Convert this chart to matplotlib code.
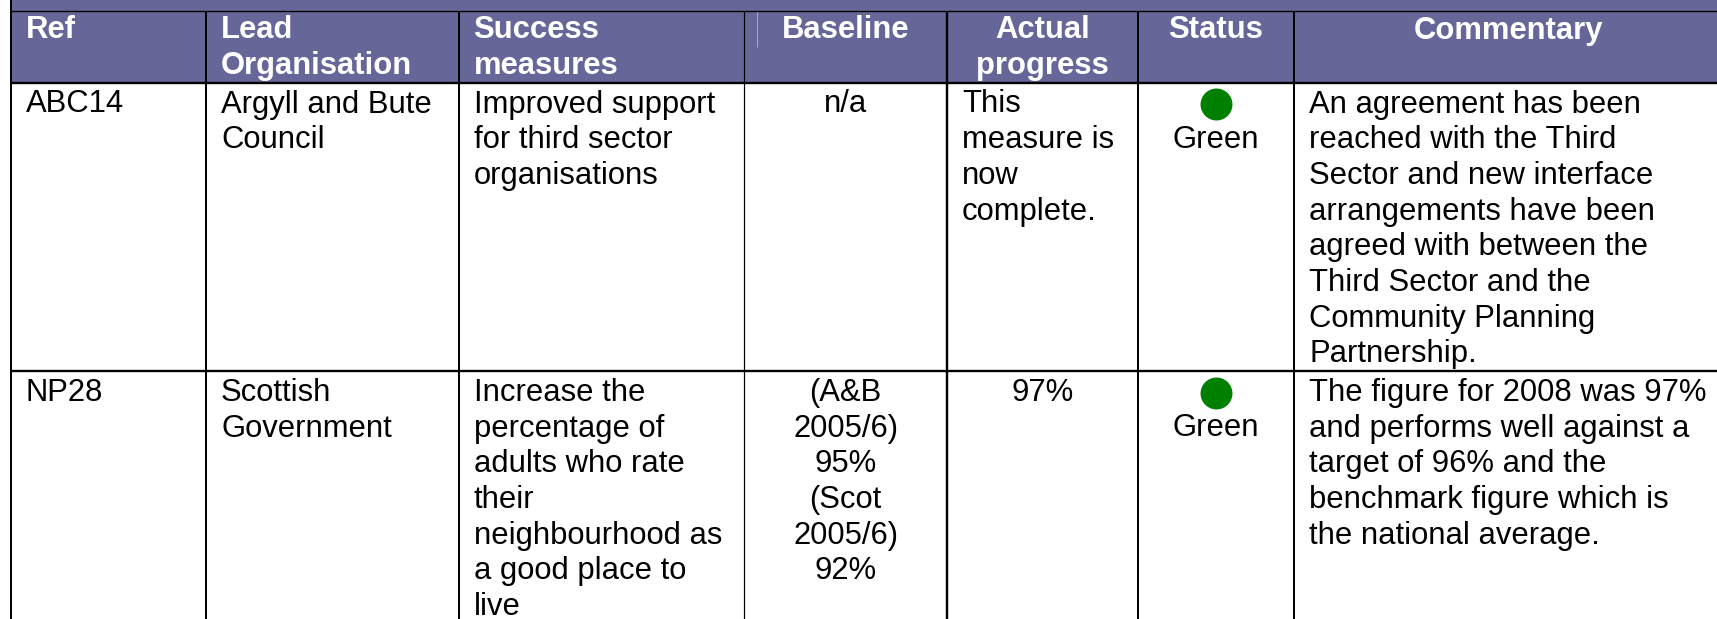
import matplotlib
matplotlib.use("Agg")
import matplotlib.pyplot as plt

headers = ["Ref", "Lead\nOrganisation", "Success\nmeasures", "Baseline", "Actual\nprogress", "Status", "Commentary"]
header_align = ["left", "left", "left", "center", "center", "center", "center"]
row1 = ["ABC14", "Argyll and Bute\nCouncil", "Improved support\nfor third sector\norganisations", "n/a",
        "This\nmeasure is\nnow\ncomplete.", "Green",
        "An agreement has been\nreached with the Third\nSector and new interface\narrangements have been\nagreed with between the\nThird Sector and the\nCommunity Planning\nPartnership."]
row2 = ["NP28", "Scottish\nGovernment", "Increase the\npercentage of\nadults who rate\ntheir\nneighbourhood as\na good place to\nlive",
        "(A&B\n2005/6)\n95%\n(Scot\n2005/6)\n92%", "97%", "Green",
        "The figure for 2008 was 97%\nand performs well against a\ntarget of 96% and the\nbenchmark figure which is\nthe national average."]
rows = [row1, row2]
row_align = [["left", "left", "left", "center", "left", "center", "left"],
             ["left", "left", "left", "center", "center", "center", "left"]]
status_colors = ["#008000", "#008000"]

col_edges = [10.5, 206, 458.5, 744, 947, 1138, 1294, 1722]
col_widths = [2, 2, 2, 1.2, 2.4, 2, 2]
top_line, header_bottom = 10.5, 82.5
row_tops = [82.5, 371]
row_bottom = 619
header_color = "#666699"
pad = 15
fs = 22.3
pitch = 35.67
first_base = 30.0

fig = plt.figure(figsize=(17.17, 6.19), dpi=100, facecolor="white")
ax = fig.add_axes([0, 0, 1, 1])
ax.set_xlim(0, 1717)
ax.set_ylim(619, 0)
ax.axis("off")
plt.rcParams["font.family"] = ["Liberation Sans", "DejaVu Sans"]

ax.fill_between([col_edges[0], 1717], 0, header_bottom, color=header_color, lw=0, zorder=1)
ax.hlines([top_line, header_bottom, row_tops[1]], col_edges[0], 1717, color="black",
          lw=[1.0, 1.7, 1.7], zorder=3)
for i, x in enumerate(col_edges[:-1]):
    ax.vlines(x, 0 if i == 0 else top_line, row_bottom, color="black", lw=col_widths[i] * 0.72, zorder=3)
ax.vlines(757, top_line, 47, color="#a9a9c8", lw=0.7, zorder=2)


def tx(i, align):
    if align == "left":
        return col_edges[i] + pad
    return (col_edges[i] + col_edges[i + 1]) / 2


def draw(x, y, s, align, **kw):
    for k, line in enumerate(s.split("\n")):
        ax.text(x, y + k * pitch, line, ha=align, va="baseline", fontsize=fs, zorder=4, **kw)


for i, h in enumerate(headers):
    draw(tx(i, header_align[i]), 38.5, h, header_align[i], color="white", fontweight="bold")

for r, row in enumerate(rows):
    y = row_tops[r] + first_base
    for i, cell in enumerate(row):
        yy = y
        if i == 5:
            ax.plot(tx(i, "center"), row_tops[r] + 21.5, "o", ms=23, color=status_colors[r], mew=0, zorder=4)
            yy = y + 35.5
        draw(tx(i, row_align[r][i]), yy, cell, row_align[r][i], color="black")

fig.savefig("out.png", dpi=100)
